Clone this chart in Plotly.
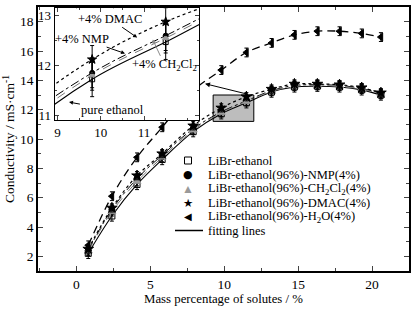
import plotly.graph_objects as go

# ---------------- data ----------------
mass_pct = [0.8, 2.4, 4.1, 5.8, 7.9, 9.8, 11.5, 13.2, 14.75, 16.3, 17.8, 19.3, 20.6]

pure_ethanol = [2.2, 4.75, 6.9, 8.6, 10.5, 11.72, 12.47, 13.2, 13.55, 13.6, 13.55, 13.35, 13.0]
nmp_4 = [2.4, 5.2, 7.3, 8.9, 10.7, 11.85, 12.6, 13.3, 13.65, 13.7, 13.65, 13.45, 13.1]
ch2cl2_4 = [2.35, 5.05, 7.1, 8.75, 10.6, 11.8, 12.55, 13.25, 13.6, 13.65, 13.6, 13.4, 13.05]
dmac_4 = [2.5, 5.3, 7.5, 9.0, 10.9, 12.12, 12.88, 13.4, 13.75, 13.75, 13.7, 13.5, 13.15]
h2o_4 = [2.75, 6.1, 8.75, 10.8, 13.3, 14.7, 15.9, 16.55, 17.1, 17.35, 17.35, 17.2, 16.95]

err_pure = [0.35] * 13
err_nmp = [0.3] * 13
err_ch2cl2 = [0.3] * 13
err_dmac = [0.28] * 13
err_h2o = [0.3] * 13

names = [
    "LiBr-ethanol",
    "LiBr-ethanol(96%)-NMP(4%)",
    "LiBr-ethanol(96%)-CH<sub>2</sub>Cl<sub>2</sub>(4%)",
    "LiBr-ethanol(96%)-DMAC(4%)",
    "LiBr-ethanol(96%)-H<sub>2</sub>O(4%)",
]
fit_label = "fitting lines"
series = [pure_ethanol, nmp_4, ch2cl2_4, dmac_4, h2o_4]
errors = [err_pure, err_nmp, err_ch2cl2, err_dmac, err_h2o]

x_ticks_main = [0, 5, 10, 15, 20]
y_ticks_main = [2, 4, 6, 8, 10, 12, 14, 16, 18]
x_ticks_inset = [9, 10, 11]
y_ticks_inset = [11, 12, 13]

# ---------------- styles ----------------
FONT = "Liberation Serif"
W, H = 416, 311
ML, MR, MT, MB = 38, 7, 7, 40
PW, PH = W - ML - MR, H - MT - MB

symbols = ["square-open", "circle", "triangle-up", "star", "triangle-left"]
mcolors = ["black", "black", "#9a9a9a", "black", "black"]
msizes_main = [6, 6, 7, 8, 7]
msizes_inset = [5, 5, 6, 7, 6]
ldash = ["solid", "dashdot", "dash", "dot", "8px,5px"]
lcolors = ["black", "black", "#777777", "black", "black"]
lwidths = [1.1, 1.0, 1.0, 1.2, 1.3]

fig = go.Figure()

for axes_id, msizes in (("", msizes_main), ("2", msizes_inset)):
    xa = "x" + axes_id
    ya = "y" + axes_id
    for i, ys in enumerate(series):
        fig.add_trace(go.Scatter(
            x=mass_pct, y=ys, mode="lines", line_shape="spline",
            line=dict(color=lcolors[i], width=lwidths[i], dash=ldash[i]),
            xaxis=xa, yaxis=ya, showlegend=False, hoverinfo="skip"))
    for i, ys in enumerate(series):
        fig.add_trace(go.Scatter(
            x=mass_pct, y=ys, mode="markers", name=names[i],
            marker=dict(symbol=symbols[i], size=msizes[i], color=mcolors[i],
                        line=dict(color=mcolors[i], width=1)),
            error_y=dict(type="data", array=errors[i], color="black",
                         thickness=1, width=2),
            xaxis=xa, yaxis=ya, showlegend=False))

axis_common = dict(showline=True, linecolor="black", mirror="ticks", ticks="inside",
                   showgrid=False, zeroline=False, automargin=False)

fig.update_layout(
    width=W, height=H,
    margin=dict(l=ML, r=MR, t=MT, b=MB),
    paper_bgcolor="white", plot_bgcolor="white",
    font=dict(family=FONT, size=13, color="black"),
    showlegend=False,
    xaxis=dict(range=[-2.6, 22.5], tickvals=x_ticks_main, ticklen=5, linewidth=1.5,
               minor=dict(dtick=2.5, ticks="inside", ticklen=3),
               tickfont=dict(family=FONT, size=13.5),
               title=dict(text="Mass percentage of solutes / %",
                          font=dict(family=FONT, size=12.8), standoff=2),
               **axis_common),
    yaxis=dict(range=[1, 19], tickvals=y_ticks_main, ticklen=5, linewidth=1.5,
               minor=dict(dtick=1, ticks="inside", ticklen=3),
               tickfont=dict(family=FONT, size=13.5),
               title=dict(text="Conductivity / mS·cm<sup>-1</sup>",
                          font=dict(family=FONT, size=13.5), standoff=2),
               **axis_common),
    xaxis2=dict(domain=[0.0445, 0.434], anchor="y2", range=[8.93, 12.27],
                tickvals=x_ticks_inset, ticklen=4, linewidth=1,
                minor=dict(dtick=0.5, ticks="inside", ticklen=2),
                tickfont=dict(family=FONT, size=13),
                **axis_common),
    yaxis2=dict(domain=[0.572, 0.995], anchor="x2", range=[10.9, 13.15],
                tickvals=y_ticks_inset, ticklen=4, linewidth=1,
                minor=dict(dtick=0.5, ticks="inside", ticklen=2),
                tickfont=dict(family=FONT, size=13),
                **axis_common),
)

shapes = [dict(type="rect", xref="x", yref="y", x0=9.25, x1=12.0, y0=11.2, y1=13.0,
               fillcolor="#bdbdbd", line=dict(color="black", width=1), layer="below")]

ann_font = dict(family=FONT, size=12.5, color="black")
annotations = [
    dict(xref="x", yref="y", axref="x", ayref="y", x=8.7, y=13.77, ax=11.6, ay=13.05,
         text="", showarrow=True, arrowhead=2, arrowsize=1, arrowwidth=1, arrowcolor="black"),
    dict(xref="x2", yref="y2", axref="x2", ayref="y2", x=10.84, y=12.56, ax=10.21, ay=12.94,
         text="+4% DMAC", font=ann_font, showarrow=True, arrowhead=2, arrowsize=0.8,
         arrowwidth=1, arrowcolor="black"),
    dict(xref="x2", yref="y2", axref="x2", ayref="y2", x=10.56, y=12.24, ax=9.57, ay=12.54,
         text="+4% NMP", font=ann_font, showarrow=True, arrowhead=2, arrowsize=0.8,
         arrowwidth=1, arrowcolor="black"),
    dict(xref="x2", yref="y2", axref="x2", ayref="y2", x=11.2, y=12.52, ax=11.48, ay=12.0,
         text="+4% CH<sub>2</sub>Cl<sub>2</sub>", font=ann_font, showarrow=True, arrowhead=2,
         arrowsize=0.8, arrowwidth=1, arrowcolor="#8a8a8a"),
    dict(xref="x2", yref="y2", axref="x2", ayref="y2", x=9.265, y=11.26, ax=10.28, ay=11.1,
         text="pure ethanol", font=ann_font, showarrow=True, arrowhead=2, arrowsize=0.8,
         arrowwidth=1, arrowcolor="black"),
]

# ---------------- compact legend ----------------
def px_to_paper_x(px):
    return (px - ML) / PW

def px_to_paper_y(py):
    return (H - MB - py) / PH

leg_first_row, leg_row_gap = 160.5, 14.0
leg_sym_x, leg_text_x = 188, 207
glyphs = [None, "●", "▲", "★", "◀"]
glyph_fonts = [None, "DejaVu Sans", "Liberation Sans", "DejaVu Sans", "DejaVu Sans"]
glyph_colors = [None, "black", "#9a9a9a", "black", "black"]
glyph_sizes = [None, 11, 12, 11.5, 10]
for i, label in enumerate(names + [fit_label]):
    py = leg_first_row + i * leg_row_gap
    annotations.append(dict(xref="paper", yref="paper", x=px_to_paper_x(leg_text_x),
                            y=px_to_paper_y(py), xanchor="left", yanchor="middle",
                            text=label, showarrow=False, borderpad=0,
                            font=dict(family=FONT, size=12.5, color="black")))
    if i == 0:
        # open square key drawn as a small bordered box
        shapes.append(dict(type="rect", xref="paper", yref="paper",
                           x0=px_to_paper_x(leg_sym_x - 3.5), x1=px_to_paper_x(leg_sym_x + 3.5),
                           y0=px_to_paper_y(py + 3.5), y1=px_to_paper_y(py - 3.5),
                           line=dict(color="black", width=1), fillcolor="white"))
    elif i < len(glyphs):
        annotations.append(dict(xref="paper", yref="paper", x=px_to_paper_x(leg_sym_x),
                                y=px_to_paper_y(py), xanchor="center", yanchor="middle",
                                text=glyphs[i], showarrow=False, borderpad=0,
                                font=dict(family=glyph_fonts[i], size=glyph_sizes[i],
                                          color=glyph_colors[i])))
    else:
        shapes.append(dict(type="line", xref="paper", yref="paper",
                           x0=px_to_paper_x(175), x1=px_to_paper_x(203),
                           y0=px_to_paper_y(py), y1=px_to_paper_y(py),
                           line=dict(color="black", width=1.5)))

fig.update_layout(annotations=annotations, shapes=shapes)

fig.write_html("out.html", config=dict(displayModeBar=False),
               post_script="document.body.style.margin='0';document.body.style.overflow='hidden';")
